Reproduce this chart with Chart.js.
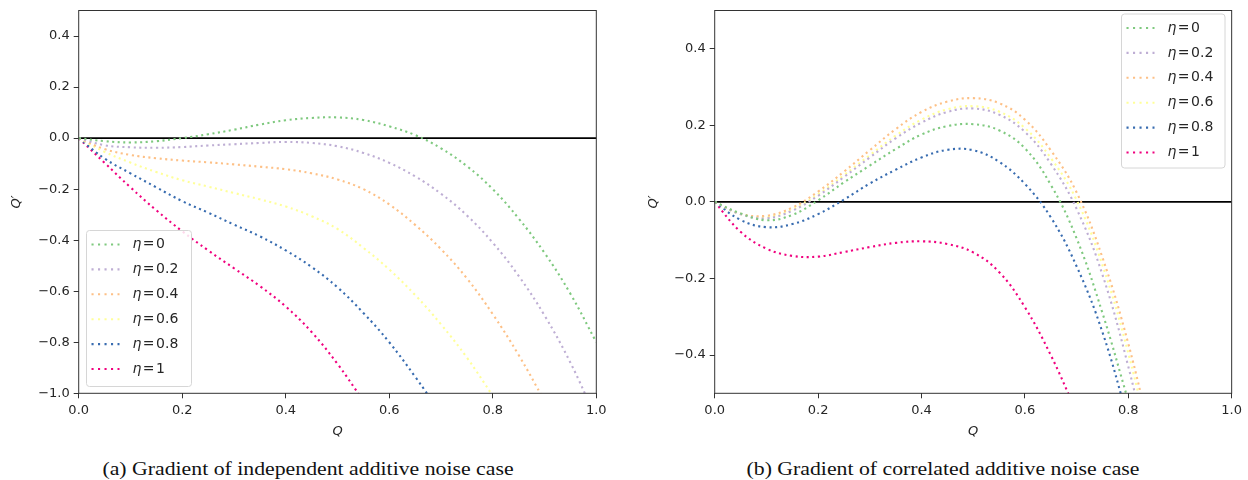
<!DOCTYPE html>
<html>
<head>
<meta charset="utf-8">
<script src="https://cdn.jsdelivr.net/npm/chart.js@4/dist/chart.umd.min.js"></script>
<style>
  html, body { margin: 0; padding: 0; background: #fff; }
  #wrap { position: relative; width: 1248px; height: 480px; overflow: hidden; }
  .panel { position: absolute; top: 0; width: 624px; height: 445px; }
  .cap {
    position: absolute; top: 458px; transform: translateX(-50%) scaleX(1.177);
    font-family: "Liberation Serif", "Times New Roman", serif; font-size: 18.5px;
    color: #111; white-space: nowrap; line-height: 22px;
  }
</style>
</head>
<body>
<div id="wrap">
  <div class="panel" style="left:0"><canvas id="chartA" width="624" height="445"></canvas></div>
  <div class="panel" style="left:624px"><canvas id="chartB" width="624" height="445"></canvas></div>
  <div class="cap" style="left:307.5px">(a) Gradient of independent additive noise case</div>
  <div class="cap" style="left:943px">(b) Gradient of correlated additive noise case</div>
</div>
<script>
// Q sample grid shared by every curve
const qGrid = [0, 0.05, 0.1, 0.15, 0.2, 0.25, 0.3, 0.35, 0.4, 0.45, 0.5,
               0.55, 0.6, 0.65, 0.7, 0.75, 0.8, 0.85, 0.9, 0.95, 1.0];

// noise correlation levels
const etaValues = ['0', '0.2', '0.4', '0.6', '0.8', '1'];

// (a) independent additive noise: Q' over qGrid
const indepEta0  = [0, -0.012, -0.017, -0.012, 0.000, 0.015, 0.033, 0.053, 0.070, 0.079, 0.081,
                    0.071, 0.046, 0.012, -0.04, -0.11, -0.20, -0.315, -0.45, -0.61, -0.80];
const indepEta02 = [0, -0.028, -0.036, -0.038, -0.035, -0.029, -0.024, -0.019, -0.015, -0.019, -0.032,
                    -0.058, -0.097, -0.15, -0.218, -0.303, -0.41, -0.54, -0.695, -0.88, -1.10];
const indepEta04 = [0, -0.043, -0.066, -0.079, -0.088, -0.095, -0.103, -0.112, -0.122, -0.138, -0.162,
                    -0.20, -0.26, -0.34, -0.435, -0.55, -0.69, -0.85, -1.03, null, null];
const indepEta06 = [0, -0.054, -0.096, -0.133, -0.165, -0.19, -0.215, -0.24, -0.268, -0.306, -0.356,
                    -0.43, -0.515, -0.615, -0.73, -0.86, -1.01, null, null, null, null];
const indepEta08 = [0, -0.08, -0.138, -0.193, -0.247, -0.292, -0.339, -0.385, -0.44, -0.505, -0.585,
                    -0.685, -0.80, -0.935, -1.08, null, null, null, null, null, null];
const indepEta1  = [0, -0.097, -0.193, -0.283, -0.365, -0.44, -0.51, -0.58, -0.66, -0.76, -0.885,
                    -1.03, null, null, null, null, null, null, null, null, null];

// (b) correlated additive noise: Q' over qGrid
const corrEta0  = [0, -0.03, -0.048, -0.034, 0.004, 0.051, 0.095, 0.138, 0.176, 0.198, 0.203,
                   0.187, 0.14, 0.045, -0.095, -0.29, -0.52, null, null, null, null];
const corrEta02 = [0, -0.032, -0.043, -0.023, 0.016, 0.065, 0.116, 0.166, 0.207, 0.235, 0.244,
                   0.228, 0.183, 0.10, -0.018, -0.19, -0.43, -0.72, null, null, null];
const corrEta04 = [0, -0.031, -0.036, -0.015, 0.027, 0.079, 0.135, 0.19, 0.235, 0.262, 0.271,
                   0.258, 0.215, 0.135, 0.025, -0.145, -0.37, -0.65, null, null, null];
const corrEta06 = [0, -0.032, -0.04, -0.02, 0.02, 0.07, 0.122, 0.173, 0.215, 0.242, 0.25,
                   0.236, 0.193, 0.115, 0.005, -0.165, -0.395, -0.68, null, null, null];
const corrEta08 = [0, -0.047, -0.066, -0.058, -0.032, 0.006, 0.048, 0.084, 0.116, 0.136, 0.135,
                   0.105, 0.047, -0.04, -0.168, -0.34, -0.57, null, null, null, null];
const corrEta1  = [0, -0.078, -0.122, -0.141, -0.143, -0.131, -0.118, -0.107, -0.103, -0.11, -0.132,
                   -0.183, -0.275, -0.40, -0.55, null, null, null, null, null, null];

// tick positions
const xTicks  = [0, 0.2, 0.4, 0.6, 0.8, 1.0];
const yTicksA = [-1.0, -0.8, -0.6, -0.4, -0.2, 0.0, 0.2, 0.4];
const yTicksB = [-0.4, -0.2, 0.0, 0.2, 0.4];

// Accent palette, one colour per eta
const palette = ['#7fc97f', '#beaed4', '#fdc086', '#ffff99', '#386cb0', '#f0027f'];

const TEXT = '#262626';
const SANS = '"DejaVu Sans", Verdana, sans-serif';

function fmt(v) {
  const s = Math.abs(v) < 1e-9 ? '0.0' : v.toFixed(1);
  return s.replace('-', '\u2212');
}

function makeDatasets(seriesList) {
  return seriesList.map((vals, i) => ({
    label: '\u03b7 = ' + etaValues[i],
    data: qGrid.map((q, k) => ({ x: q, y: vals[k] })),
    borderColor: palette[i],
    backgroundColor: palette[i],
    borderWidth: 2.1,
    borderDash: [2.1, 3.5],
    borderCapStyle: 'butt',
    pointRadius: 0,
    fill: false,
    spanGaps: false,
    tension: 0.4
  }));
}

// horizontal reference line at Q' = 0, under the curves
const zeroLine = {
  id: 'zeroLine',
  beforeDatasetsDraw(chart) {
    const { ctx, chartArea: a, scales } = chart;
    const py = scales.y.getPixelForValue(0);
    ctx.save();
    ctx.strokeStyle = '#000';
    ctx.lineWidth = 1.8;
    ctx.beginPath();
    ctx.moveTo(a.left, py);
    ctx.lineTo(a.right, py);
    ctx.stroke();
    ctx.restore();
  }
};

// full box around the plotting area
const frame = {
  id: 'frame',
  afterDatasetsDraw(chart) {
    const { ctx, chartArea: a } = chart;
    ctx.save();
    ctx.strokeStyle = '#333';
    ctx.lineWidth = 1;
    ctx.strokeRect(a.left, a.top, a.right - a.left, a.bottom - a.top);
    ctx.restore();
  }
};

// legend box drawn inside the plotting area
function etaLegend(box) {
  return {
    id: 'etaLegend',
    afterDraw(chart) {
      const ctx = chart.ctx;
      ctx.save();
      ctx.beginPath();
      ctx.roundRect(box.x, box.y, box.w, box.h, 3);
      ctx.fillStyle = 'rgba(255,255,255,0.85)';
      ctx.fill();
      ctx.strokeStyle = '#d6d6d6';
      ctx.lineWidth = 1;
      ctx.stroke();
      chart.data.datasets.forEach((ds, i) => {
        const cy = box.y + 14 + i * 24.9;
        ctx.strokeStyle = ds.borderColor;
        ctx.lineWidth = ds.borderWidth;
        ctx.setLineDash([2.1, 4.4]);
        ctx.beginPath();
        ctx.moveTo(box.x + 5, cy);
        ctx.lineTo(box.x + 33, cy);
        ctx.stroke();
        ctx.setLineDash([]);
        ctx.fillStyle = TEXT;
        ctx.textBaseline = 'middle';
        ctx.textAlign = 'left';
        let tx = box.x + 46;
        ctx.font = 'italic 14px ' + SANS;
        ctx.fillText('\u03b7', tx, cy);
        tx += ctx.measureText('\u03b7').width + 1.5;
        ctx.font = '14px ' + SANS;
        ctx.fillText('=', tx, cy);
        tx += ctx.measureText('=').width + 1.5;
        ctx.fillText(etaValues[i], tx, cy);
      });
      ctx.restore();
    }
  };
}

function buildChart(id, seriesList, yMin, yMax, yTicks, geo) {
  const tickFont = { family: SANS, size: 13, lineHeight: 1.0 };
  const titleFont = { family: SANS, size: 13, style: 'italic' };
  return new Chart(document.getElementById(id), {
    type: 'line',
    data: { datasets: makeDatasets(seriesList) },
    options: {
      responsive: false,
      animation: false,
      devicePixelRatio: 1,
      layout: { padding: { top: geo.top, right: geo.right, left: 0, bottom: 0 } },
      plugins: { legend: { display: false }, tooltip: { enabled: false } },
      scales: {
        x: {
          type: 'linear', min: 0, max: 1,
          afterFit(s) { s.height = geo.xAxisH; },
          afterBuildTicks(s) { s.ticks = xTicks.map(v => ({ value: v })); },
          ticks: { callback: fmt, font: tickFont, color: TEXT, padding: 6, maxRotation: 0, autoSkip: false },
          grid: { drawOnChartArea: false, tickLength: 5, tickColor: '#333', tickWidth: 1 },
          border: { display: false },
          title: { display: true, text: 'Q', font: titleFont, color: TEXT, padding: { top: 0, bottom: 5.2 } }
        },
        y: {
          type: 'linear', min: yMin, max: yMax,
          afterFit(s) { s.width = geo.yAxisW; },
          afterBuildTicks(s) { s.ticks = yTicks.map(v => ({ value: v })); },
          ticks: { callback: fmt, font: tickFont, color: TEXT, padding: 4, autoSkip: false },
          grid: { drawOnChartArea: false, tickLength: 5, tickColor: '#333', tickWidth: 1 },
          border: { display: false },
          title: { display: true, text: 'Q\u2032', font: titleFont, color: TEXT, padding: { top: geo.yTitlePad, bottom: 0 } }
        }
      }
    },
    plugins: [zeroLine, frame, etaLegend(geo.legend)]
  });
}

buildChart('chartA',
  [indepEta0, indepEta02, indepEta04, indepEta06, indepEta08, indepEta1],
  -1.0, 0.5, yTicksA,
  { top: 7, right: 27.7, xAxisH: 51.7, yAxisW: 78.7, yTitlePad: 9.2,
    legend: { x: 86.5, y: 230.5, w: 105, h: 156 } });

buildChart('chartB',
  [corrEta0, corrEta02, corrEta04, corrEta06, corrEta08, corrEta1],
  -0.5, 0.5, yTicksB,
  { top: 7, right: 15.7, xAxisH: 51.7, yAxisW: 90.7, yTitlePad: 21.5,
    legend: { x: 497.5, y: 14, w: 103.5, h: 154 } });
</script>
</body>
</html>
